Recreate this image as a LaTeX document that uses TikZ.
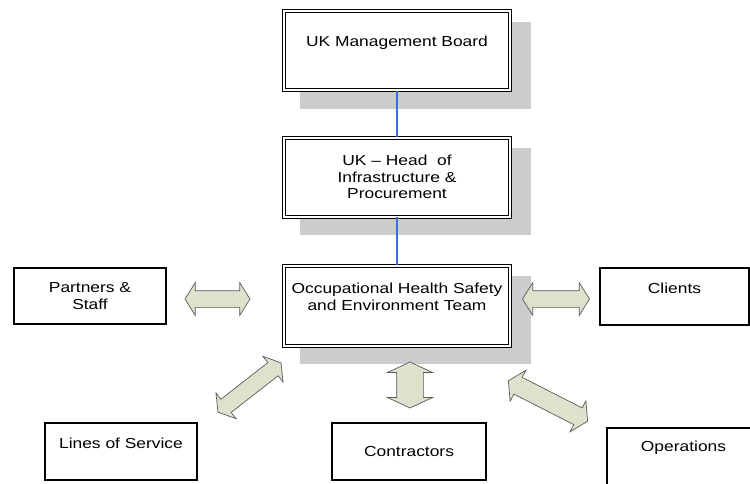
\documentclass[tikz,border=0pt]{standalone}
\usepackage{fontspec}
\setmainfont[FakeStretch=1.2]{Liberation Sans}
\usetikzlibrary{shapes.arrows,backgrounds}

\definecolor{arrowfill}{RGB}{221,226,205}
\definecolor{arrowline}{RGB}{90,90,90}
\definecolor{linkblue}{RGB}{60,110,230}
\definecolor{shadowgrey}{RGB}{204,204,204}

\tikzset{
  board/.style={draw=black, double=white, double distance=2pt, line width=1pt,
    fill=white, minimum width=226pt, minimum height=79pt},
  party/.style={draw=black, line width=1.1pt, fill=white},
  boxtext/.style={align=center, font=\fontsize{14.5}{16.5}\selectfont},
  dblarrow/.style={double arrow, draw=arrowline, fill=arrowfill, line width=0.7pt,
    inner xsep=0pt, inner ysep=8pt, double arrow head extend=8pt,
    double arrow tip angle=116, double arrow head indent=0pt},
  link/.style={draw=linkblue, line width=1.2pt}
}

\begin{document}
\begin{tikzpicture}[x=1pt, y=-1pt]
  \useasboundingbox (0,0) rectangle (750,483);

  % management line
  \node[board, label={[boxtext, yshift=7.5pt]center:UK Management Board}] (ukmb) at (397,50.5) {};
  \node[board, boxtext] (headip) at (397,177) {UK -- Head \ of\\Infrastructure \&\\Procurement};
  \node[board, minimum height=80pt, label={[boxtext, yshift=8.5pt]center:Occupational Health Safety\\and Environment Team}] (ohse) at (397,305.5) {};

  % shadows
  \begin{scope}[on background layer]
    \foreach \b in {ukmb,headip,ohse}
      \fill[shadowgrey] ([shift={(16,11)}]\b.north west) rectangle ([shift={(20,18)}]\b.south east);
  \end{scope}

  \draw[link] (ukmb.south) -- (headip.north);
  \draw[link] (headip.south) -- (ohse.north);

  % parties round the team
  \node[party, boxtext, minimum width=152pt, minimum height=56pt] (partners) at (90,296) {Partners \&\\Staff};
  \node[party, minimum width=149pt, minimum height=57pt, label={[boxtext, yshift=8.5pt]center:Clients}] (clients) at (674.5,296.5) {};
  \node[party, minimum width=152pt, minimum height=57pt, label={[boxtext, yshift=8.5pt]center:Lines of Service}] (los) at (121,451.5) {};
  \node[party, boxtext, minimum width=154pt, minimum height=57pt] (contractors) at (409,451.5) {Contractors};
  \node[party, minimum width=145pt, minimum height=62pt, label={[boxtext, yshift=11pt, xshift=4pt]center:Operations}] (operations) at (679.5,459) {};

  % two-way arrows
  \node[dblarrow, minimum height=65pt] (arrpartners) at (217.5,299) {};
  \node[dblarrow, minimum height=67pt] (arrclients) at (556,299) {};
  \node[dblarrow, minimum height=80pt, rotate=38] (arrlos) at (249.5,387.5) {};
  \node[dblarrow, minimum height=46pt, rotate=90, inner ysep=13pt, double arrow head extend=9pt, double arrow tip angle=130] (arrcontractors) at (410,385) {};
  \node[dblarrow, minimum height=89pt, rotate=-27, inner ysep=9pt] (arroperations) at (548,401) {};
\end{tikzpicture}
\end{document}
